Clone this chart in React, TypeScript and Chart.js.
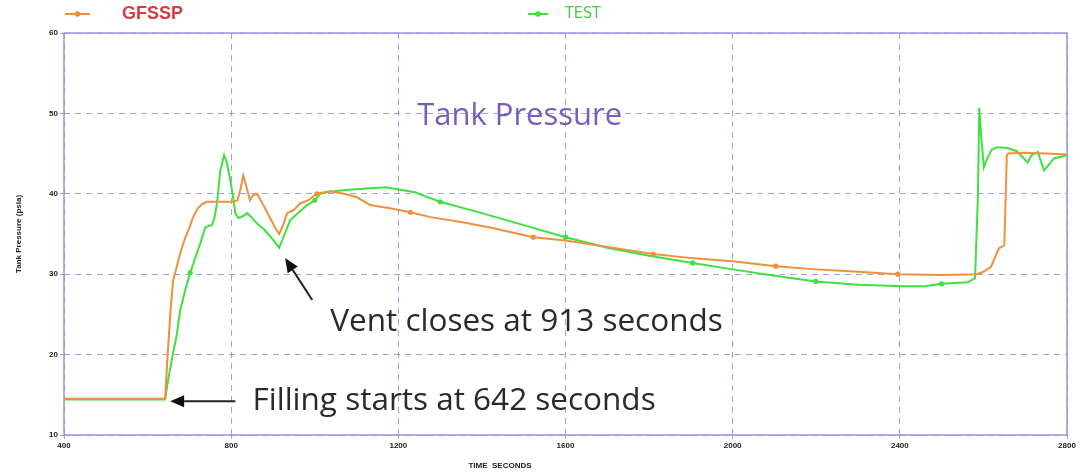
import React, { useEffect, useRef } from "react";
import { Chart, registerables } from "chart.js";

Chart.register(...registerables);

// ---- data ----
const gfsspTime = [400, 642, 648, 655, 661, 670, 678, 690, 700, 709, 720, 730, 742, 760, 780, 805, 815, 822, 829, 837, 845, 852, 862, 875, 890, 905, 915, 925, 934, 950, 965, 985, 1005, 1037, 1070, 1100, 1133, 1180, 1229, 1277, 1350, 1420, 1523, 1600, 1700, 1810, 1900, 2000, 2103, 2200, 2300, 2395, 2500, 2585, 2600, 2618, 2637, 2650, 2656, 2660, 2700, 2750, 2800];
const gfsspPressure = [14.5, 14.5, 20, 25.5, 29.2, 31, 32.6, 34.5, 35.8, 37.1, 38.2, 38.7, 39, 39, 39, 39, 39.2, 40.5, 42.3, 40.8, 39.2, 39.8, 40, 38.8, 37.3, 35.8, 35, 36.2, 37.6, 38, 38.8, 39.2, 40, 40.3, 40, 39.6, 38.6, 38.2, 37.7, 37.1, 36.5, 35.8, 34.6, 34.2, 33.4, 32.5, 32, 31.6, 31, 30.6, 30.3, 30, 29.9, 30, 30.3, 30.9, 33.2, 33.6, 44.8, 45, 45.1, 45.0, 44.9];
const gfsspMarkerTimes = [1005, 1229, 1523, 1810, 2103, 2395];

const testTime = [400, 642, 648, 655, 661, 670, 678, 690, 702, 714, 726, 738, 746, 754, 760, 766, 774, 783, 790, 798, 805, 810, 817, 828, 838, 850, 862, 880, 900, 915, 928, 941, 960, 982, 1000, 1013, 1040, 1080, 1133, 1170, 1205, 1240, 1300, 1400, 1500, 1600, 1700, 1800, 1904, 2000, 2100, 2199, 2300, 2410, 2460, 2500, 2563, 2580, 2587, 2590, 2595, 2601, 2610, 2620, 2634, 2658, 2680, 2706, 2715, 2730, 2745, 2769, 2785, 2800];
const testPressure = [14.4, 14.4, 16.5, 18.5, 20.2, 22.5, 25.5, 28, 30.2, 32, 33.8, 35.8, 36, 36.1, 37, 38.8, 42.9, 44.8, 43.8, 41.7, 39.4, 37.6, 37, 37.2, 37.6, 37, 36.3, 35.5, 34.3, 33.3, 35, 36.7, 37.6, 38.6, 39.2, 40, 40.3, 40.5, 40.7, 40.8, 40.5, 40.2, 39, 37.6, 36.1, 34.6, 33.3, 32.3, 31.4, 30.6, 29.8, 29.1, 28.7, 28.5, 28.5, 28.8, 29, 29.5, 40, 50.7, 47, 43.3, 44.5, 45.5, 45.8, 45.7, 45.3, 43.9, 44.8, 45.2, 42.9, 44.4, 44.6, 44.8];
const testMarkerTimes = [702, 1000, 1300, 1600, 1904, 2199, 2500];

const seriesNames = ["GFSSP", "TEST"];
const xTicks = [400, 800, 1200, 1600, 2000, 2400, 2800];
const yTicks = [10, 20, 30, 40, 50, 60];

const chartTitle = "Tank Pressure";
const xTitle = "TIME  SECONDS";
const yTitle = "Tank Pressure (psia)";
const fillingText = "Filling starts at 642 seconds";
const ventText = "Vent closes at 913 seconds";

const ORANGE = "#f0903c";
const GREEN = "#3fe040";
const GRID = "rgba(110,110,200,0.65)";
const FRAME = "rgb(150,150,225)";

const toPoints = (xs: number[], ys: number[]) => xs.map((x, i) => ({ x, y: ys[i] }));

const overlayPlugin = {
  id: "overlay",
  beforeDatasetsDraw(chart: any) {
    const { ctx, chartArea } = chart;
    ctx.save();
    ctx.strokeStyle = FRAME;
    ctx.lineWidth = 1.5;
    ctx.strokeRect(chartArea.left, chartArea.top, chartArea.right - chartArea.left, chartArea.bottom - chartArea.top);
    ctx.restore();
  },
  afterDraw(chart: any) {
    const { ctx } = chart;
    const xs = chart.scales.x;
    const ys = chart.scales.y;
    ctx.save();

    // title
    ctx.fillStyle = "#7b5cb8";
    ctx.font = "31px 'Open Sans', sans-serif";
    ctx.textBaseline = "middle";
    ctx.textAlign = "left";
    ctx.fillText(chartTitle, xs.getPixelForValue(1245), ys.getPixelForValue(49.6));

    // annotations
    const drawArrow = (x1: number, y1: number, x2: number, y2: number) => {
      const ang = Math.atan2(y2 - y1, x2 - x1);
      const head = 14;
      const hw = 6;
      const bx = x2 - head * Math.cos(ang);
      const by = y2 - head * Math.sin(ang);
      ctx.strokeStyle = "#222";
      ctx.lineWidth = 2;
      ctx.beginPath();
      ctx.moveTo(x1, y1);
      ctx.lineTo(bx, by);
      ctx.stroke();
      ctx.fillStyle = "#111";
      ctx.beginPath();
      ctx.moveTo(x2, y2);
      ctx.lineTo(bx - hw * Math.sin(ang), by + hw * Math.cos(ang));
      ctx.lineTo(bx + hw * Math.sin(ang), by - hw * Math.cos(ang));
      ctx.closePath();
      ctx.fill();
    };
    drawArrow(xs.getPixelForValue(810), ys.getPixelForValue(14.2), xs.getPixelForValue(654), ys.getPixelForValue(14.2));
    drawArrow(xs.getPixelForValue(994), ys.getPixelForValue(26.8), xs.getPixelForValue(929), ys.getPixelForValue(32));

    ctx.fillStyle = "#2a2a2a";
    ctx.font = "31.5px 'Open Sans', sans-serif";
    ctx.textBaseline = "middle";
    ctx.textAlign = "left";
    ctx.fillText(fillingText, xs.getPixelForValue(851), ys.getPixelForValue(14.2));
    ctx.fillText(ventText, xs.getPixelForValue(1037), ys.getPixelForValue(24.1));

    // x axis title
    ctx.fillStyle = "#222";
    ctx.font = "bold 8px 'Liberation Sans', sans-serif";
    ctx.textAlign = "center";
    ctx.fillText(xTitle, 500, 466);

    // legend
    const legendY = 14;
    const legendItems = [
      { color: ORANGE, text: seriesNames[0], x1: 65, x2: 90, tx: 122, tc: "#d83a3f", font: "bold 18px 'Liberation Sans', sans-serif" },
      { color: GREEN, text: seriesNames[1], x1: 528, x2: 548, tx: 565, tc: "#4cc84c", font: "16px 'DejaVu Sans Condensed', 'Liberation Sans', sans-serif" },
    ];
    legendItems.forEach((it) => {
      ctx.strokeStyle = it.color;
      ctx.lineWidth = 2;
      ctx.beginPath();
      ctx.moveTo(it.x1, legendY);
      ctx.lineTo(it.x2, legendY);
      ctx.stroke();
      ctx.fillStyle = it.color;
      ctx.beginPath();
      ctx.arc((it.x1 + it.x2) / 2, legendY, 2.8, 0, Math.PI * 2);
      ctx.fill();
      ctx.fillStyle = it.tc;
      ctx.font = it.font;
      ctx.textAlign = "left";
      ctx.textBaseline = "middle";
      ctx.fillText(it.text, it.tx, legendY);
    });
    ctx.restore();
  },
};

export default function App() {
  const canvasRef = useRef<HTMLCanvasElement | null>(null);

  useEffect(() => {
    if (!canvasRef.current) return;
    const gSet = new Set(gfsspMarkerTimes);
    const tSet = new Set(testMarkerTimes);
    const chart = new Chart(canvasRef.current, {
      type: "line",
      data: {
        datasets: [
          {
            label: seriesNames[0],
            data: toPoints(gfsspTime, gfsspPressure),
            borderColor: ORANGE,
            backgroundColor: ORANGE,
            borderWidth: 2,
            pointRadius: (c: any) => (gSet.has(c.raw?.x) ? 2.6 : 0),
            pointBorderWidth: 0,
            tension: 0,
          },
          {
            label: seriesNames[1],
            data: toPoints(testTime, testPressure),
            borderColor: GREEN,
            backgroundColor: GREEN,
            borderWidth: 2,
            pointRadius: (c: any) => (tSet.has(c.raw?.x) ? 2.6 : 0),
            pointBorderWidth: 0,
            tension: 0,
          },
        ],
      },
      options: {
        animation: false,
        responsive: true,
        maintainAspectRatio: false,
        layout: { padding: { top: 33, right: 14, left: 0, bottom: 0 } },
        plugins: {
          legend: { display: false },
          tooltip: { enabled: false },
          title: { display: false },
        },
        scales: {
          x: {
            type: "linear",
            min: 400,
            max: 2800,
            afterBuildTicks: (s: any) => {
              s.ticks = xTicks.map((v) => ({ value: v }));
            },
            afterFit: (s: any) => {
              s.height = 39;
            },
            ticks: {
              color: "#222",
              font: { family: "'Liberation Sans', sans-serif", size: 8, weight: "bold" },
              padding: 2,
              maxRotation: 0,
              autoSkip: false,
              callback: (v: any) => String(v),
            },
            grid: { color: GRID, lineWidth: 1, tickLength: 4, drawTicks: true },
            border: { display: false, dash: [6, 5] },
          },
          y: {
            type: "linear",
            min: 10,
            max: 60,
            afterBuildTicks: (s: any) => {
              s.ticks = yTicks.map((v) => ({ value: v }));
            },
            afterFit: (s: any) => {
              s.width = 64;
            },
            title: {
              display: true,
              text: yTitle,
              color: "#222",
              font: { family: "'Liberation Sans', sans-serif", size: 8, weight: "bold" },
              padding: { top: 14, bottom: 0 },
            },
            ticks: {
              color: "#222",
              font: { family: "'Liberation Sans', sans-serif", size: 8, weight: "bold" },
              padding: 2,
              callback: (v: any) => String(v),
            },
            grid: { color: GRID, lineWidth: 1, tickLength: 4, drawTicks: true },
            border: { display: false, dash: [6, 5] },
          },
        },
      },
      plugins: [overlayPlugin],
    } as any);
    return () => chart.destroy();
  }, []);

  return (
    <div style={{ position: "fixed", left: 0, top: 0, width: 1081, height: 474, background: "#fff" }}>
      <canvas ref={canvasRef} />
    </div>
  );
}
